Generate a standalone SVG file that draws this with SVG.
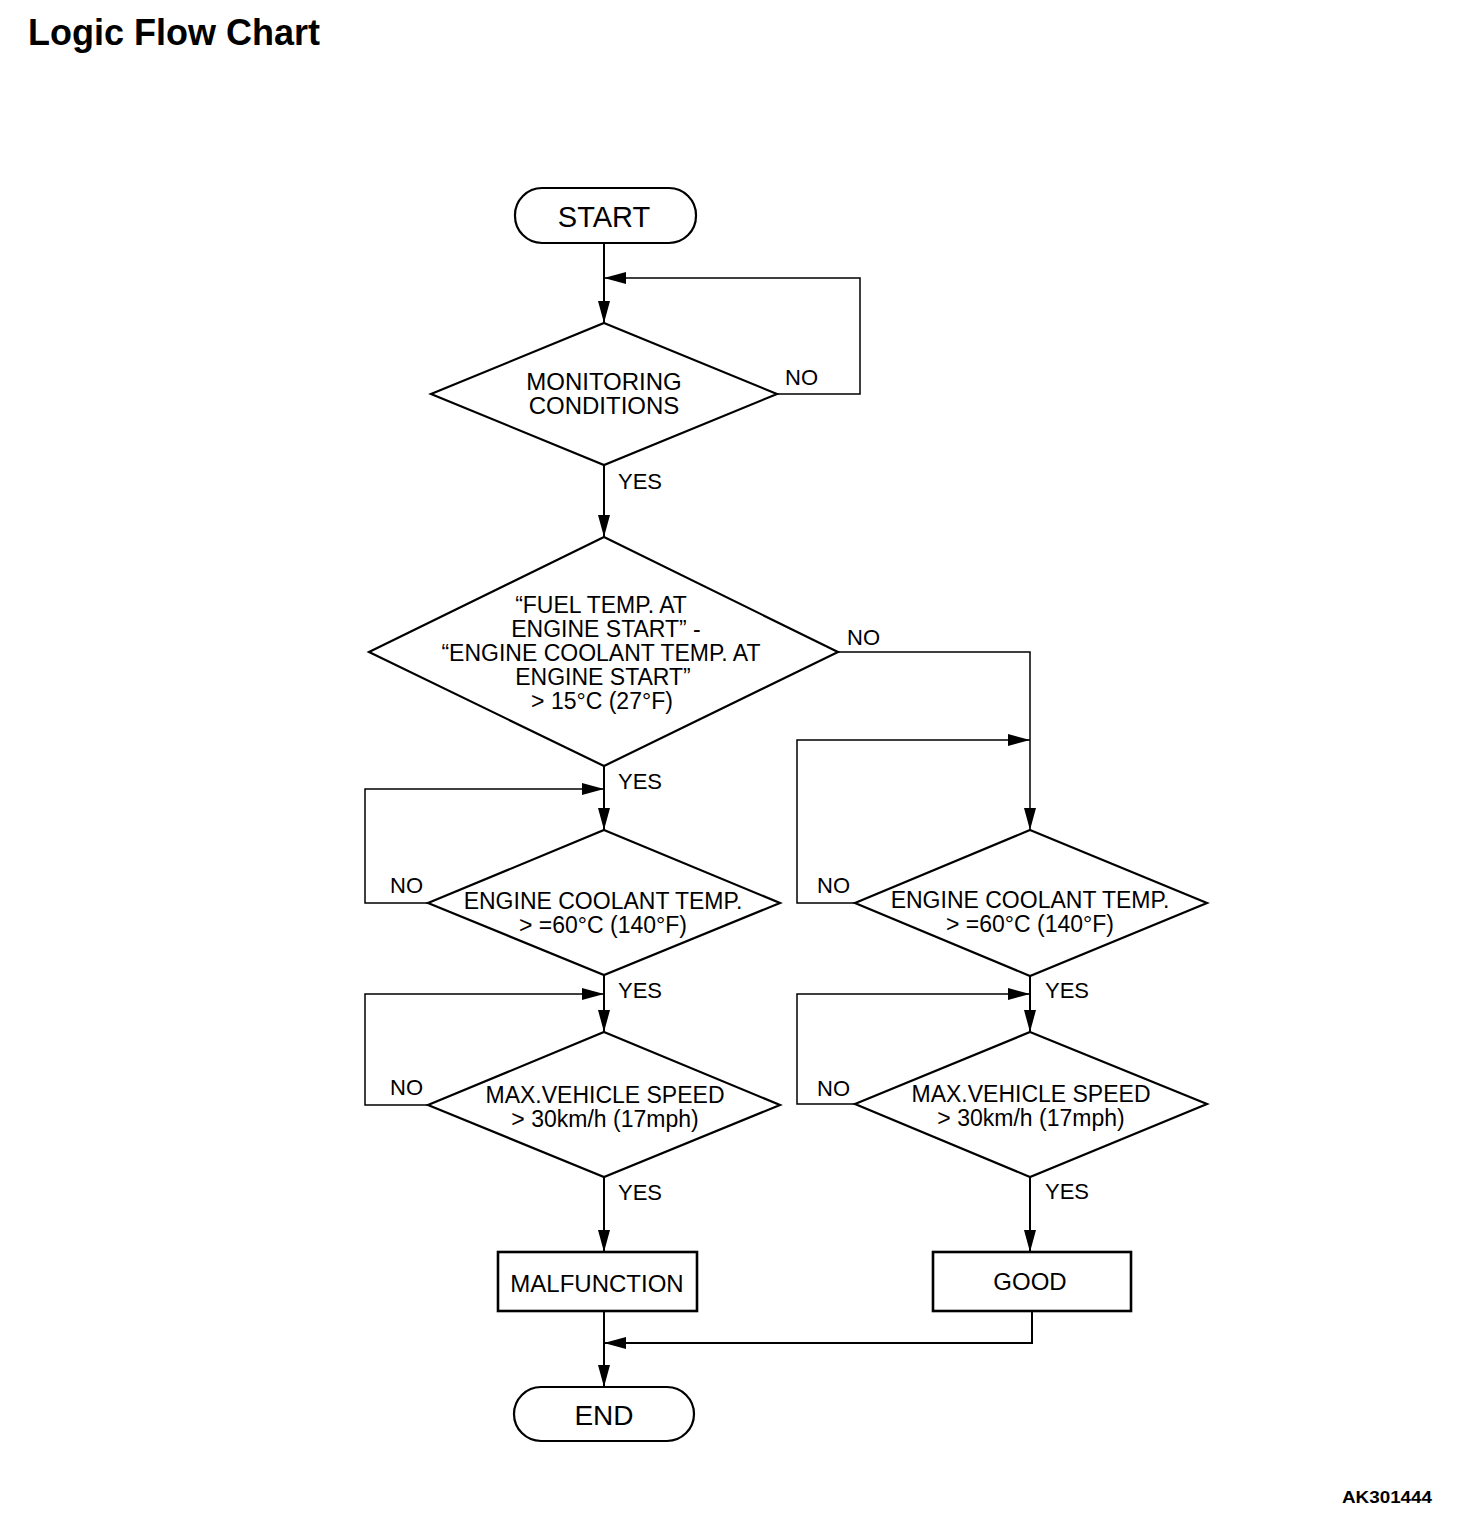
<svg xmlns="http://www.w3.org/2000/svg" width="1472" height="1534" viewBox="0 0 1472 1534">
<style>
.shape{fill:#fff;stroke:#000;stroke-width:2.2}
.box{fill:#fff;stroke:#000;stroke-width:2.6}
.main{fill:none;stroke:#000;stroke-width:2}
.loop{fill:none;stroke:#000;stroke-width:1.5}
.t{font-family:"Liberation Sans",Arial,sans-serif;font-size:23px;fill:#000;text-anchor:middle}
.lbl{font-family:"Liberation Sans",Arial,sans-serif;font-size:22px;fill:#000}
</style>
<defs>
<marker id="ah" viewBox="0 0 22 12" refX="22" refY="6" markerWidth="22" markerHeight="12" orient="auto" markerUnits="userSpaceOnUse">
<path d="M0,0 L22,6 L0,12 z" fill="#000"/>
</marker>
</defs>
<rect width="1472" height="1534" fill="#fff"/>
<text x="28" y="45" font-family="Liberation Sans,Arial,sans-serif" font-size="36" font-weight="bold">Logic Flow Chart</text>
<text x="1342" y="1503" font-family="Liberation Sans,Arial,sans-serif" font-size="16" font-weight="bold" textLength="90" lengthAdjust="spacingAndGlyphs">AK301444</text>

<g id="connectors">
<path class="main" d="M604,243 V323" marker-end="url(#ah)"/>
<path class="loop" d="M777,394 H860 V278 H604" marker-end="url(#ah)"/>
<path class="main" d="M604,465 V537" marker-end="url(#ah)"/>
<path class="main" d="M604,766 V830" marker-end="url(#ah)"/>
<path class="loop" d="M838,652 H1030 V830" marker-end="url(#ah)"/>
<path class="loop" d="M428,903 H365 V789 H604" marker-end="url(#ah)"/>
<path class="main" d="M604,975 V1032" marker-end="url(#ah)"/>
<path class="loop" d="M428,1105 H365 V994 H604" marker-end="url(#ah)"/>
<path class="main" d="M604,1177 V1252" marker-end="url(#ah)"/>
<path class="loop" d="M855,903 H797 V740 H1030" marker-end="url(#ah)"/>
<path class="main" d="M1030,976 V1032" marker-end="url(#ah)"/>
<path class="loop" d="M855,1104 H797 V994 H1030" marker-end="url(#ah)"/>
<path class="main" d="M1030,1177 V1252" marker-end="url(#ah)"/>
<path class="main" d="M604,1311 V1387" marker-end="url(#ah)"/>
<path class="main" d="M1032,1311 V1343 H604" marker-end="url(#ah)"/>
</g>

<g id="labels">
<text class="lbl" x="785" y="385">NO</text>
<text class="lbl" x="618" y="489">YES</text>
<text class="lbl" x="847" y="645">NO</text>
<text class="lbl" x="618" y="789">YES</text>
<text class="lbl" x="390" y="893">NO</text>
<text class="lbl" x="618" y="998">YES</text>
<text class="lbl" x="390" y="1095">NO</text>
<text class="lbl" x="618" y="1200">YES</text>
<text class="lbl" x="817" y="893">NO</text>
<text class="lbl" x="1045" y="998">YES</text>
<text class="lbl" x="817" y="1096">NO</text>
<text class="lbl" x="1045" y="1199">YES</text>
</g>

<g id="start">
<rect class="shape" x="515" y="188" width="181" height="55" rx="27" ry="27"/>
<text class="t" x="604" y="227" style="font-size:29px">START</text>
</g>

<g id="monitoring">
<polygon class="shape" points="604,323 777,394 604,465 431,394"/>
<text class="t" x="604" y="390" style="font-size:24px">MONITORING</text>
<text class="t" x="604" y="414" style="font-size:24px">CONDITIONS</text>
</g>

<g id="fuel-temp">
<polygon class="shape" points="604,537 838,652 604,766 369,652"/>
<text class="t" x="601" y="613">“FUEL TEMP. AT</text>
<text class="t" x="606" y="637">ENGINE START” -</text>
<text class="t" x="601" y="661">“ENGINE COOLANT TEMP. AT</text>
<text class="t" x="603" y="685">ENGINE START”</text>
<text class="t" x="602" y="709">&gt; 15°C (27°F)</text>
</g>

<g id="coolant-left">
<polygon class="shape" points="604,830 780,903 604,975 428,903"/>
<text class="t" x="603" y="909">ENGINE COOLANT TEMP.</text>
<text class="t" x="603" y="933">&gt; =60°C (140°F)</text>
</g>

<g id="speed-left">
<polygon class="shape" points="604,1032 780,1105 604,1177 428,1105"/>
<text class="t" x="605" y="1103">MAX.VEHICLE SPEED</text>
<text class="t" x="605" y="1127">&gt; 30km/h (17mph)</text>
</g>

<g id="coolant-right">
<polygon class="shape" points="1030,830 1207,903 1030,976 855,903"/>
<text class="t" x="1030" y="908">ENGINE COOLANT TEMP.</text>
<text class="t" x="1030" y="932">&gt; =60°C (140°F)</text>
</g>

<g id="speed-right">
<polygon class="shape" points="1030,1032 1207,1104 1030,1177 855,1104"/>
<text class="t" x="1031" y="1102">MAX.VEHICLE SPEED</text>
<text class="t" x="1031" y="1126">&gt; 30km/h (17mph)</text>
</g>

<g id="malfunction">
<rect class="box" x="498" y="1252" width="199" height="59"/>
<text class="t" x="597" y="1292" style="font-size:24px">MALFUNCTION</text>
</g>

<g id="good">
<rect class="box" x="933" y="1252" width="198" height="59"/>
<text class="t" x="1030" y="1290" style="font-size:24px">GOOD</text>
</g>

<g id="end">
<rect class="shape" x="514" y="1387" width="180" height="54" rx="27" ry="27"/>
<text class="t" x="604" y="1425" style="font-size:28px">END</text>
</g>
</svg>
